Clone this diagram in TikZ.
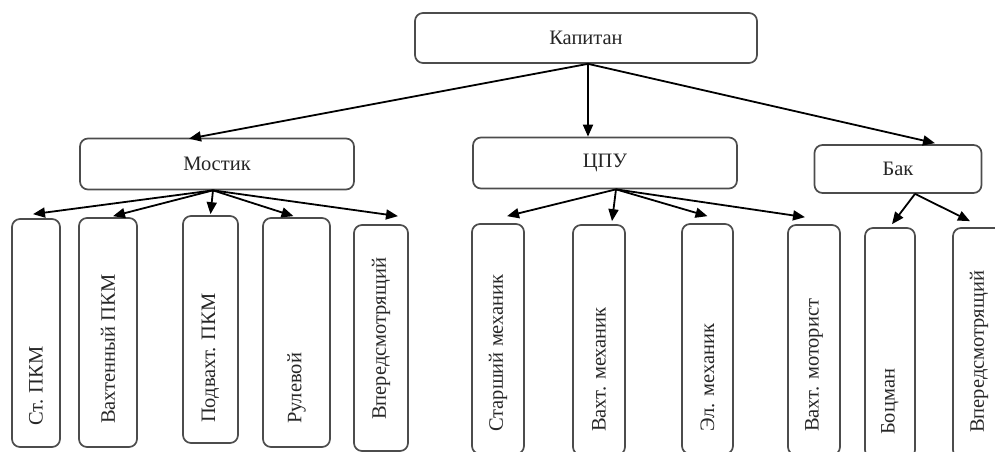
\documentclass[tikz,border=0pt]{standalone}
\usepackage{fontspec}
\setmainfont{Liberation Serif}
\usetikzlibrary{arrows.meta}
\begin{document}
\begin{tikzpicture}[x=1pt,y=-1pt,
  box/.style={draw=black!70,line width=1.7pt,rounded corners=8pt,inner sep=0pt},
  vlabel/.style={rotate=90,anchor=west,inner sep=0pt,text=black!85,font=\fontsize{20.5}{24}\selectfont},
  hlabel/.style={inner sep=0pt,text=black!85,font=\fontsize{20.5}{24}\selectfont},
  conn/.style={line width=1.8pt,-{Triangle[length=12pt,width=10pt]}}]
\useasboundingbox (0,0) rectangle (995,452);
% top levels
\node[box,minimum width=342pt,minimum height=50pt] (kap) at (586,38) {};
\node[hlabel] (kapt) at (586,38) {Капитан};
\node[box,minimum width=274pt,minimum height=51pt] (most) at (217,164) {};
\node[hlabel] (mostt) at (217,164) {Мостик};
\node[box,minimum width=264pt,minimum height=51pt] (cpu) at (605,163) {};
\node[hlabel] (cput) at (605,163) {ЦПУ};
\node[box,minimum width=167pt,minimum height=48pt] (bak) at (898,169) {};
\node[hlabel] (bakt) at (898,169) {Бак};
% leaves
\node[box,minimum width=48pt,minimum height=228pt] (stpkm) at (36,333) {};
\node[vlabel] (stpkmt) at (36,426) {Ст. ПКМ};
\node[box,minimum width=58pt,minimum height=229pt] (vpkm) at (108,332.5) {};
\node[vlabel] (vpkmt) at (108,424) {Вахтенный ПКМ};
\node[box,minimum width=55pt,minimum height=227pt] (podv) at (210.5,329.5) {};
\node[vlabel] (podvt) at (210.5,423) {Подвахт. ПКМ};
\node[box,minimum width=67pt,minimum height=229pt] (rul) at (296.5,332.5) {};
\node[vlabel] (rult) at (296.5,424) {Рулевой};
\node[box,minimum width=54pt,minimum height=226pt] (vper1) at (381,338) {};
\node[vlabel] (vper1t) at (381,420) {Впередсмотрящий};
\node[box,minimum width=52pt,minimum height=230pt] (stmeh) at (498,339) {};
\node[vlabel] (stmeht) at (498,432) {Старший механик};
\node[box,minimum width=52pt,minimum height=230pt] (vmeh) at (599,340) {};
\node[vlabel] (vmeht) at (599,432) {Вахт. механик};
\node[box,minimum width=51pt,minimum height=230pt] (elmeh) at (707.5,339) {};
\node[vlabel] (elmeht) at (707.5,432) {Эл. механик};
\node[box,minimum width=52pt,minimum height=230pt] (vmot) at (814,340) {};
\node[vlabel] (vmott) at (814,432) {Вахт. моторист};
\node[box,minimum width=50pt,minimum height=230pt] (bocm) at (890,343) {};
\node[vlabel] (bocmt) at (890,435) {Боцман};
\node[box,minimum width=52pt,minimum height=230pt] (vper2) at (979,343) {};
\node[vlabel] (vper2t) at (979,433) {Впередсмотрящий};
% connectors
\draw[conn] ([xshift=2pt]kap.south) -- ([xshift=-28pt,yshift=-1pt]most.north);
\draw[conn] ([xshift=2pt]kap.south) -- ([xshift=-17pt]cpu.north);
\draw[conn] ([xshift=2pt]kap.south) -- ([xshift=37pt,yshift=1pt]bak.north);
\draw[conn] ([xshift=-4pt]most.south) -- ([xshift=-3pt,yshift=4pt]stpkm.north);
\draw[conn] ([xshift=-4pt]most.south) -- ([xshift=5pt,yshift=1pt]vpkm.north);
\draw[conn] ([xshift=-4pt]most.south) -- ([xshift=0pt,yshift=1pt]podv.north);
\draw[conn] ([xshift=-4pt]most.south) -- ([xshift=-3pt,yshift=1pt]rul.north);
\draw[conn] ([xshift=-4pt]most.south) -- ([xshift=17pt,yshift=8pt]vper1.north);
\draw[conn] ([xshift=11pt]cpu.south) -- ([xshift=9pt,yshift=7pt]stmeh.north);
\draw[conn] ([xshift=11pt]cpu.south) -- ([xshift=13pt,yshift=3pt]vmeh.north);
\draw[conn] ([xshift=11pt]cpu.south) -- ([xshift=0pt,yshift=7pt]elmeh.north);
\draw[conn] ([xshift=11pt]cpu.south) -- ([xshift=-9pt,yshift=7pt]vmot.north);
\draw[conn] ([xshift=17pt]bak.south) -- ([xshift=2pt,yshift=3pt]bocm.north);
\draw[conn] ([xshift=17pt]bak.south) -- ([xshift=-9pt,yshift=6pt]vper2.north);
\end{tikzpicture}
\end{document}
